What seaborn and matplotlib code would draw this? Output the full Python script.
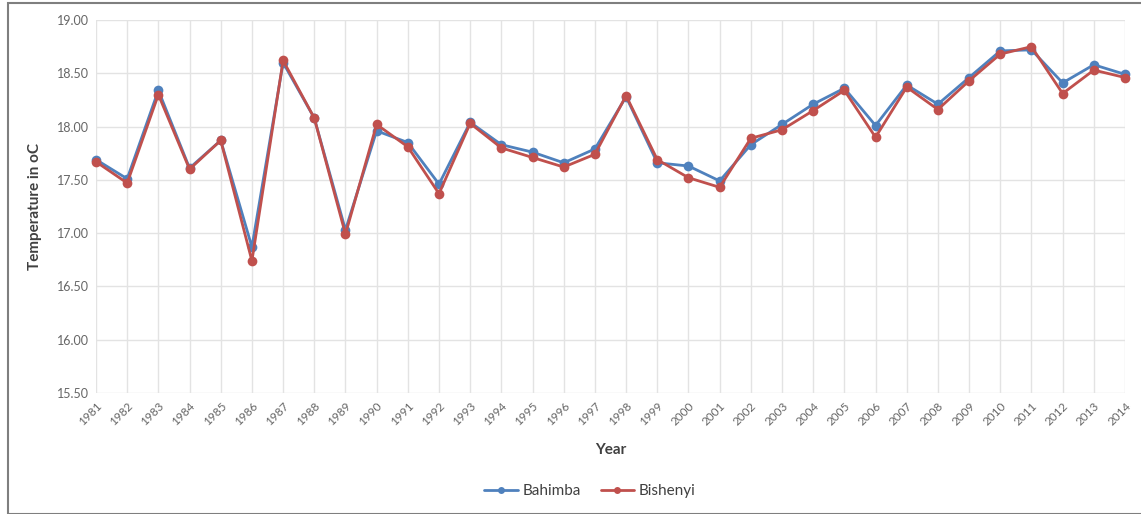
import pandas as pd
import matplotlib
matplotlib.use("Agg")
import matplotlib.pyplot as plt
import seaborn as sns
from matplotlib.patches import Rectangle

years = list(range(1981, 2015))
bahimba = [17.69, 17.51, 18.34, 17.61, 17.87, 16.87, 18.60, 18.08, 17.03, 17.96,
           17.85, 17.46, 18.04, 17.83, 17.76, 17.66, 17.79, 18.28, 17.66, 17.63,
           17.49, 17.83, 18.02, 18.21, 18.36, 18.01, 18.39, 18.21, 18.46, 18.71,
           18.72, 18.41, 18.58, 18.49]
bishenyi = [17.67, 17.47, 18.30, 17.60, 17.87, 16.74, 18.62, 18.08, 16.99, 18.02,
            17.81, 17.37, 18.03, 17.80, 17.71, 17.62, 17.74, 18.29, 17.69, 17.52,
            17.43, 17.89, 17.97, 18.15, 18.34, 17.90, 18.37, 18.16, 18.43, 18.68,
            18.75, 18.31, 18.53, 18.46]
stations = ["Bahimba", "Bishenyi"]
palette = {"Bahimba": "#4F81BD", "Bishenyi": "#C0504D"}

df = pd.concat([
    pd.DataFrame({"Year": years, "Temp": bahimba, "Station": "Bahimba"}),
    pd.DataFrame({"Year": years, "Temp": bishenyi, "Station": "Bishenyi"}),
])

sns.set_style("whitegrid", {"grid.color": "#E3E3E3"})
plt.rcParams["font.family"] = ["Lato", "DejaVu Sans"]

fig = plt.figure(figsize=(11.41, 5.14), dpi=100)
ax = fig.add_axes([96 / 1141, 1 - 393 / 514, 1029 / 1141, 373 / 514])

sns.lineplot(data=df, x="Year", y="Temp", hue="Station", hue_order=stations,
             palette=palette, marker="o", markersize=7, markeredgewidth=0,
             linewidth=2, ax=ax, clip_on=False)

ax.set_xlim(1981, 2014)
ax.set_ylim(15.5, 19.0)
ax.set_xticks(years)
ax.set_xticklabels([str(y) for y in years], rotation=45, ha="right",
                   rotation_mode="anchor", fontsize=8.5, color="#666666")
ax.set_yticks([15.5 + 0.5 * i for i in range(8)])
ax.set_yticklabels([f"{15.5 + 0.5 * i:.2f}" for i in range(8)], fontsize=9, color="#666666")
ax.tick_params(axis="both", length=0, pad=5)
for s in ax.spines.values():
    s.set_visible(False)
ax.grid(True, color="#E3E3E3", linewidth=1)

ax.set_xlabel("Year", fontsize=11, fontweight="bold", color="#404040")
ax.xaxis.set_label_coords(0.5, -0.135)
ax.set_ylabel("Temperature in oC", fontsize=11, fontweight="bold", color="#404040")
ax.yaxis.set_label_coords(-0.052, 0.5)

handles, labels = ax.get_legend_handles_labels()
for h in handles:
    h.set_markersize(5)
ax.legend(handles, labels, loc="center", bbox_to_anchor=(0.48, -0.263), ncol=2,
          frameon=False, fontsize=11, handlelength=2.2, columnspacing=1.3,
          handletextpad=0.3, labelcolor="#404040")

fig.patches.append(Rectangle((8 / 1141, 0), 1.0, 1 - 3 / 514, transform=fig.transFigure,
                             fill=False, edgecolor="#7F7F7F", linewidth=1.5))

fig.savefig("out.png", dpi=100)
